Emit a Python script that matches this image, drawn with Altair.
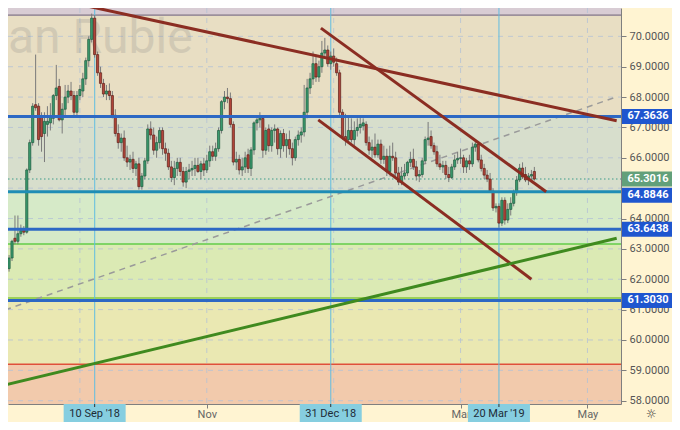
import altair as alt
import pandas as pd

# ---------------- layout (plot area) ----------------
W, H = 613, 396
X_DOMAIN = [-27.667, 176.667]   # bar index (0 = 10 Sep 2018, trading days)
Y_DOMAIN = [57.891, 70.934]

# ---------------- candle data (bar index, OHLC) ----------------
BAR = list(range(-30, 150))
OPEN = [
    62.80, 62.35, 62.70, 63.35, 63.25, 63.50, 63.65, 63.55, 65.60, 66.50,
    67.75, 67.70, 67.35, 66.80, 67.10, 67.15, 67.30, 68.05, 68.35, 67.25,
    67.60, 68.00, 68.20, 68.05, 67.50, 68.05, 68.20, 68.60, 69.20, 69.90,
    70.60, 69.40, 68.80, 68.45, 68.10, 68.20, 68.05, 67.40, 66.80, 66.50,
    66.65, 66.00, 65.86, 65.95, 65.65, 65.80, 65.05, 65.40, 65.90, 66.95,
    66.75, 66.25, 66.50, 66.90, 66.30, 66.15, 65.70, 65.35, 65.65, 65.85,
    65.55, 65.20, 65.55, 65.60, 65.65, 65.75, 65.55, 65.80, 65.60, 65.90,
    66.20, 66.05, 66.30, 66.90, 67.85, 68.00, 67.95, 67.10, 65.86, 65.95,
    65.60, 65.70, 66.10, 65.65, 66.26, 67.15, 67.25, 67.30, 66.25, 66.95,
    66.40, 66.90, 66.95, 66.30, 66.80, 66.40, 66.60, 66.30, 66.00, 66.60,
    66.75, 66.85, 67.50, 68.30, 68.60, 69.10, 68.66, 69.00, 69.45, 69.55,
    69.10, 69.35, 69.10, 68.80, 67.50, 66.70, 66.60, 66.90, 66.60, 66.90,
    67.00, 67.05, 67.10, 66.50, 66.25, 66.35, 66.10, 66.45, 65.95, 66.05,
    65.55, 66.05, 66.00, 65.50, 65.20, 65.40, 65.50, 65.85, 65.95, 65.70,
    65.40, 65.45, 65.90, 66.60, 66.70, 66.40, 66.20, 65.80, 65.70, 65.75,
    65.45, 65.35, 65.70, 65.93, 65.98, 66.00, 65.70, 65.90, 65.80, 66.35,
    66.45, 65.93, 65.65, 65.43, 65.30, 64.90, 64.35, 64.40, 63.85, 64.60,
    63.95, 64.30, 64.50, 64.85, 65.27, 65.66, 65.45, 65.27, 65.40, 65.55]
HIGH = [
    62.90, 62.80, 63.30, 64.10, 64.10, 63.80, 63.75, 65.65, 66.60, 67.80,
    69.40, 67.80, 67.50, 67.50, 67.70, 67.80, 68.10, 69.06, 68.60, 67.80,
    68.40, 68.40, 68.50, 68.20, 68.20, 68.40, 68.80, 69.30, 70.00, 70.75,
    70.70, 69.50, 69.00, 68.60, 68.40, 68.45, 68.20, 67.60, 67.10, 66.80,
    66.90, 66.40, 66.10, 66.20, 65.90, 66.00, 65.50, 66.00, 67.10, 67.20,
    67.00, 66.70, 67.00, 67.00, 66.50, 66.30, 65.90, 65.90, 66.00, 66.00,
    65.70, 65.70, 65.80, 65.90, 66.00, 66.00, 65.90, 66.00, 66.10, 66.40,
    66.40, 66.50, 67.00, 67.90, 68.20, 68.30, 68.15, 67.20, 66.20, 66.10,
    66.00, 66.20, 66.30, 66.35, 67.20, 67.40, 67.50, 67.40, 67.00, 67.10,
    67.00, 67.10, 67.00, 66.90, 66.95, 66.80, 66.90, 66.50, 66.70, 66.90,
    67.00, 68.40, 68.60, 68.80, 69.50, 69.40, 69.20, 69.85, 69.95, 69.70,
    69.50, 69.60, 69.30, 68.90, 67.60, 67.45, 67.40, 67.30, 67.20, 67.30,
    67.35, 67.30, 67.20, 66.70, 66.60, 66.80, 66.60, 66.60, 66.40, 66.30,
    66.40, 66.50, 66.20, 65.70, 65.70, 65.80, 65.90, 66.20, 66.30, 65.90,
    65.60, 66.00, 66.70, 67.18, 66.90, 66.50, 66.40, 66.10, 65.90, 65.90,
    65.70, 65.80, 66.10, 66.20, 66.30, 66.10, 66.00, 66.10, 66.50, 66.55,
    66.50, 66.10, 65.80, 65.60, 65.50, 65.00, 64.50, 64.50, 64.70, 64.70,
    64.50, 64.70, 64.95, 65.40, 65.80, 65.85, 65.70, 65.50, 65.60, 65.70]
LOW = [
    62.20, 62.25, 62.60, 63.15, 63.15, 63.40, 63.45, 63.50, 65.50, 66.40,
    67.55, 66.40, 66.20, 65.86, 66.70, 66.90, 67.10, 67.90, 67.20, 66.80,
    67.40, 67.80, 67.90, 67.40, 67.40, 67.90, 68.00, 68.40, 69.00, 69.80,
    69.30, 68.70, 68.30, 68.00, 67.90, 67.90, 67.30, 66.70, 66.30, 66.20,
    65.90, 65.70, 65.60, 65.50, 65.40, 64.95, 64.95, 65.30, 65.80, 66.60,
    66.10, 66.00, 66.30, 66.10, 65.90, 65.60, 65.20, 65.10, 65.40, 65.40,
    65.05, 65.00, 65.30, 65.40, 65.40, 65.50, 65.30, 65.40, 65.50, 65.70,
    65.90, 65.90, 66.20, 66.80, 67.60, 67.80, 67.00, 65.75, 65.60, 65.45,
    65.40, 65.50, 65.50, 65.40, 66.10, 66.90, 67.00, 66.00, 66.10, 66.20,
    66.20, 66.50, 66.10, 66.00, 66.20, 66.00, 66.10, 65.75, 65.90, 66.40,
    66.50, 66.70, 67.30, 68.10, 68.40, 68.50, 68.50, 68.80, 69.30, 69.00,
    68.90, 69.00, 68.70, 67.40, 66.60, 66.40, 66.50, 66.50, 66.40, 66.70,
    66.80, 66.90, 66.40, 66.10, 66.00, 66.00, 66.00, 65.80, 65.80, 65.40,
    65.45, 65.90, 65.40, 65.10, 65.10, 65.30, 65.40, 65.70, 65.60, 65.25,
    65.20, 65.35, 65.80, 66.40, 66.30, 66.10, 65.70, 65.60, 65.50, 65.30,
    65.20, 65.30, 65.60, 65.80, 65.80, 65.50, 65.50, 65.60, 65.70, 66.20,
    65.85, 65.55, 65.30, 65.20, 64.85, 64.25, 64.20, 63.70, 63.75, 63.80,
    63.85, 64.10, 64.40, 64.75, 65.20, 65.30, 65.20, 65.10, 65.20, 65.25]
CLOSE = [
    62.30, 62.70, 63.25, 63.25, 63.50, 63.60, 63.55, 65.60, 66.50, 67.70,
    67.65, 66.60, 66.70, 67.20, 67.20, 67.35, 68.05, 68.30, 67.25, 67.60,
    68.00, 68.20, 68.05, 67.50, 68.05, 68.25, 68.60, 69.20, 69.90, 70.60,
    69.40, 68.80, 68.45, 68.10, 68.20, 68.05, 67.40, 66.80, 66.50, 66.65,
    66.00, 65.86, 65.95, 65.65, 65.80, 65.05, 65.40, 65.90, 66.95, 66.75,
    66.25, 66.50, 66.90, 66.30, 66.15, 65.70, 65.35, 65.65, 65.85, 65.55,
    65.20, 65.55, 65.60, 65.65, 65.75, 65.55, 65.80, 65.60, 65.90, 66.20,
    66.05, 66.30, 66.90, 67.85, 68.00, 67.95, 67.10, 65.86, 65.95, 65.60,
    65.70, 66.00, 65.65, 66.26, 67.15, 67.25, 67.30, 66.25, 66.90, 66.40,
    66.90, 66.95, 66.30, 66.80, 66.40, 66.60, 66.30, 66.00, 66.60, 66.75,
    66.85, 67.50, 68.30, 68.60, 69.10, 68.66, 69.00, 69.45, 69.55, 69.10,
    69.35, 69.15, 68.80, 67.50, 66.70, 66.60, 66.90, 66.60, 66.90, 67.00,
    67.10, 67.15, 66.50, 66.25, 66.35, 66.10, 66.45, 65.95, 66.05, 65.55,
    66.05, 66.00, 65.50, 65.20, 65.40, 65.50, 65.85, 65.95, 65.70, 65.40,
    65.45, 65.90, 66.60, 66.65, 66.40, 66.20, 65.80, 65.70, 65.75, 65.45,
    65.35, 65.70, 65.93, 65.98, 66.00, 65.70, 65.90, 65.80, 66.35, 66.45,
    65.93, 65.65, 65.43, 65.30, 64.90, 64.35, 64.40, 63.85, 64.60, 63.95,
    64.30, 64.50, 64.85, 65.27, 65.66, 65.37, 65.27, 65.40, 65.45, 65.30]

# ---------------- background zones ----------------
ZONE_LO = [70.70, 67.3636, 64.8846, 63.16, 61.3030, 59.20, 56.0]
ZONE_HI = [73.00, 70.70, 67.3636, 64.8846, 63.16, 61.3030, 59.20]
ZONE_NAME = ["z1", "z2", "z3", "z4", "z5", "z6", "z7"]

# ---------------- horizontal levels ----------------
LEVELS = [67.3636, 64.8846, 63.6438, 61.3030]
LEVEL_NAME = ["l1", "l2", "l3", "l4"]
THIN = [70.70, 63.16, 61.38, 59.20]
THIN_NAME = ["t_grey", "t_green", "t_green2", "t_red"]
LAST = 65.3016

# ---------------- trend lines (bar index, price) ----------------
TREND_ID = ["res", "res", "ch_up", "ch_up", "ch_lo", "ch_lo", "sup", "sup", "diag", "diag"]
TREND_X = [-12.0, 176.9, 76.67, 153.0, 75.77, 148.0, -30.33, 176.9, -30.33, 176.67]
TREND_Y = [71.198, 67.222, 70.27, 64.88, 67.25, 62.00, 58.52, 63.35, 60.99, 68.00]

# ---------------- axis text ----------------
GRID_PRICES = list(range(58, 72))
PRICE_LABELS = [58, 59, 60, 61, 62, 63, 64, 66, 67, 68, 69, 70]
MONTH_BARS = [-5, 38, 81, 124, 167]
MONTH_LABELS = ["", "Nov", "", "Mar", "May"]
DATE_BARS = [0, 80, 137]
DATE_LABELS = ["10 Sep '18", "31 Dec '18", "20 Mar '19"]
TAG_VALUES = [67.3636, 64.8846, 63.6438, 61.3030, 65.3016]
TAG_KIND = ["level", "shifted", "level", "level", "last"]
WATERMARK = "an Ruble"

# ---------------- styles ----------------
ZONE_COLORS = {"z1": "#d8ccd4", "z2": "#e8dec3", "z3": "#d7decc", "z4": "#d6eac8",
               "z5": "#dbeab4", "z6": "#eae8b2", "z7": "#f2caac"}
LEVEL_COLORS = {"l1": "#2d68c4", "l2": "#1f8db5", "l3": "#2d68c4", "l4": "#2d68c4"}
THIN_COLORS = {"t_grey": "#9c909c", "t_green": "#62cc48", "t_green2": "#86c83c", "t_red": "#e0503a"}
FONT = "Roboto"
RIGHT_PAD, BOTTOM_PAD = 51, 18

xs = alt.Scale(domain=X_DOMAIN, nice=False, zero=False)
ys = alt.Scale(domain=Y_DOMAIN, nice=False, zero=False)

label_expr = "''"
for b, l in reversed(list(zip(MONTH_BARS, MONTH_LABELS))):
    label_expr = f"datum.value === {b} ? '{l}' : ({label_expr})"

x_axis = alt.Axis(values=MONTH_BARS, labelExpr=label_expr, orient="bottom", title=None,
                  grid=False, domainColor="#7f7f7f", tickColor="#7f7f7f", tickSize=4,
                  labelColor="#666666", labelFont=FONT, labelFontSize=11, labelPadding=0,
                  labelOverlap=False, labelFlush=False)
y_axis = alt.Axis(values=PRICE_LABELS, format=".4f", orient="right", title=None, grid=False,
                  domainColor="#7f7f7f", tickColor="#7f7f7f", tickSize=5,
                  labelColor="#555555", labelFont=FONT, labelFontSize=11, labelPadding=3,
                  labelOverlap=False, labelFlush=False)

candles = pd.DataFrame({"i": BAR, "open": OPEN, "high": HIGH, "low": LOW, "close": CLOSE})
zones = pd.DataFrame({"lo": ZONE_LO, "hi": ZONE_HI, "name": ZONE_NAME})
zones["c"] = zones["name"].map(ZONE_COLORS)
levels = pd.DataFrame({"v": LEVELS, "name": LEVEL_NAME})
levels["c"] = levels["name"].map(LEVEL_COLORS)
thin = pd.DataFrame({"v": THIN, "name": THIN_NAME})
thin["c"] = thin["name"].map(THIN_COLORS)
trends = pd.DataFrame({"id": TREND_ID, "i": TREND_X, "p": TREND_Y})
hgrid = pd.DataFrame({"v": GRID_PRICES})
vgrid = pd.DataFrame({"i": MONTH_BARS})
dates = pd.DataFrame({"i": DATE_BARS, "label": DATE_LABELS})
tags = pd.DataFrame({"v": TAG_VALUES, "kind": TAG_KIND})
last = pd.DataFrame({"v": [LAST]})


def bx(f):
    return alt.X(f, type="quantitative", scale=xs, axis=x_axis)


def by(f):
    return alt.Y(f, type="quantitative", scale=ys, axis=y_axis)


zone_layer = alt.Chart(zones).mark_rect(clip=True).encode(
    x=alt.value(0), x2=alt.value(W), y=by("lo"), y2=alt.Y2("hi"),
    color=alt.Color("c:N", scale=None))

hgrid_layer = alt.Chart(hgrid).mark_rule(strokeDash=[5, 5], color="#b4c2d4", opacity=0.8, clip=True).encode(
    x=alt.value(0), x2=alt.value(W), y=by("v"))
vgrid_layer = alt.Chart(vgrid).mark_rule(strokeDash=[5, 5], color="#b4c2d4", opacity=0.8).encode(
    x=bx("i"), y=alt.value(0), y2=alt.value(H))

thin_layer = alt.Chart(thin).mark_rule(strokeWidth=1.6).encode(
    x=alt.value(0), x2=alt.value(W), y=by("v"), color=alt.Color("c:N", scale=None))

vhl_layer = alt.Chart(dates).mark_rule(color="#63bde0", strokeWidth=1.2, opacity=0.85).encode(
    x=bx("i"), y=alt.value(0), y2=alt.value(H))

watermark = alt.Chart(pd.DataFrame({"t": [WATERMARK]})).mark_text(
    align="left", baseline="alphabetic", font=FONT, fontSize=48, color="#7a7a7a",
    opacity=0.2).encode(x=alt.value(0), y=alt.value(45), text="t:N")

diag_layer = alt.Chart(trends).transform_filter("datum.id === 'diag'").mark_line(
    color="#9a9a9a", strokeWidth=1.5, strokeDash=[6, 5], clip=True).encode(
    x=bx("i"), y=by("p"), detail="id:N")

last_layer = alt.Chart(last).mark_rule(color="#3f9c8a", strokeDash=[1.5, 2.5], strokeWidth=1.2).encode(
    x=alt.value(0), x2=alt.value(W), y=by("v"))

up = "datum.close >= datum.open"
wick_layer = alt.Chart(candles).mark_rule(color="#7a7a7a", strokeWidth=1).encode(
    x=bx("i"), y=by("low"), y2="high:Q")
body_layer = alt.Chart(candles).mark_bar(size=2.2, strokeWidth=0.7).encode(
    x=bx("i"), y=by("open"), y2="close:Q",
    fill=alt.condition(up, alt.value("#3a9a6e"), alt.value("#b2453a")),
    stroke=alt.condition(up, alt.value("#1e5a3e"), alt.value("#5e2018")))

level_layer = alt.Chart(levels).mark_rule(strokeWidth=3).encode(
    x=alt.value(0), x2=alt.value(W), y=by("v"), color=alt.Color("c:N", scale=None))

red_layer = alt.Chart(trends).transform_filter("datum.id !== 'diag' && datum.id !== 'sup'").mark_line(
    color="#8b2d22", strokeWidth=3, clip=True).encode(x=bx("i"), y=by("p"), detail="id:N")
green_layer = alt.Chart(trends).transform_filter("datum.id === 'sup'").mark_line(
    color="#3f8a1f", strokeWidth=3, clip=True).encode(x=bx("i"), y=by("p"), detail="id:N")

TAG_W = 50
TAG_PATH = "M-1,-0.3L1,-0.3L1,0.3L-1,0.3Z"
tag_layers = []
for sel, off in [("datum.kind !== 'shifted'", 0), ("datum.kind === 'shifted'", 3.5)]:
    tag_layers.append(alt.Chart(tags).transform_filter(sel).mark_point(
        shape=TAG_PATH, filled=True, opacity=1, size=TAG_W * TAG_W, strokeWidth=0, yOffset=off).encode(
        x=alt.value(W + 1 + TAG_W / 2), y=by("v"),
        color=alt.condition("datum.kind === 'last'", alt.value("#62a07a"), alt.value("#1f56cf"))))
    tag_layers.append(alt.Chart(tags).transform_filter(sel).mark_text(
        font=FONT, fontSize=11, fontWeight="bold", color="white", align="center",
        baseline="middle", yOffset=off).encode(
        x=alt.value(W + 2 + TAG_W / 2), y=by("v"), text=alt.Text("v:Q", format=".4f")))

DATE_PATH = "M-1,-0.29L1,-0.29L1,0.29L-1,0.29Z"
date_box = alt.Chart(dates).mark_point(shape=DATE_PATH, filled=True, opacity=1, size=62 * 62,
                                       strokeWidth=0, color="#86cee0").encode(
    x=bx("i"), y=alt.value(H + 9))
date_text = alt.Chart(dates).mark_text(font=FONT, fontSize=11, color="#1e2b36",
                                       align="center", baseline="middle").encode(
    x=bx("i"), y=alt.value(H + 9.5), text="label:N")
date_tick = alt.Chart(dates).mark_rule(color="#333333", strokeWidth=1).encode(
    x=bx("i"), y=alt.value(H), y2=alt.value(H + 3))

gear = alt.Chart(pd.DataFrame({"t": ["☼"]})).mark_text(
    font="DejaVu Sans", fontSize=12, color="#333333", align="center", baseline="middle").encode(
    x=alt.value(W + 30), y=alt.value(H + 9.5), text="t:N")

chart = alt.layer(
    zone_layer, hgrid_layer, vgrid_layer, thin_layer, vhl_layer, watermark, diag_layer,
    last_layer, wick_layer, body_layer, level_layer, red_layer, green_layer,
    *tag_layers, date_box, date_text, date_tick, gear
).properties(
    width=W, height=H, background="#fff4d2",
    padding={"left": 0, "top": 0, "right": RIGHT_PAD, "bottom": BOTTOM_PAD},
    autosize=alt.AutoSizeParams(type="none"),
).configure_view(stroke=None)

chart.save("out.html", embed_options={"renderer": "svg", "actions": False})
